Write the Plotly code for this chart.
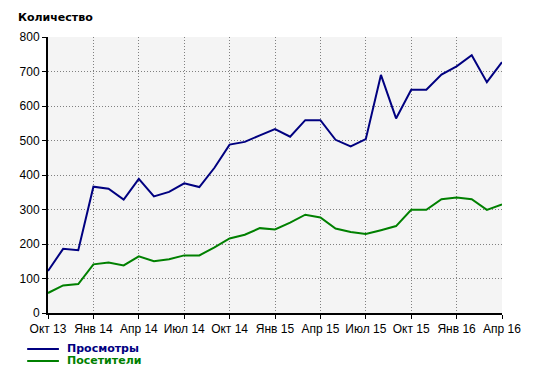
import plotly.graph_objects as go

months = ["Окт 13", "Ноя 13", "Дек 13", "Янв 14", "Фев 14", "Мар 14", "Апр 14", "Май 14",
          "Июн 14", "Июл 14", "Авг 14", "Сен 14", "Окт 14", "Ноя 14", "Дек 14", "Янв 15",
          "Фев 15", "Мар 15", "Апр 15", "Май 15", "Июн 15", "Июл 15", "Авг 15", "Сен 15",
          "Окт 15", "Ноя 15", "Дек 15", "Янв 16", "Фев 16", "Мар 16", "Апр 16"]
views = [122, 186, 182, 366, 360, 329, 389, 338, 351, 376, 365, 421, 488, 496, 515, 533,
         511, 559, 559, 502, 483, 504, 690, 564, 647, 647, 691, 715, 747, 669, 727]
visitors = [58, 80, 84, 141, 146, 138, 164, 150, 156, 167, 167, 190, 216, 227, 246, 242,
            262, 285, 277, 245, 235, 229, 240, 252, 299, 299, 330, 335, 330, 299, 315]
series_names = ["Просмотры", "Посетители"]
series_colors = ["#000080", "#008000"]
tick_idx = list(range(0, len(months), 3))
tick_labels = [months[i] for i in tick_idx]
y_ticks = [0, 100, 200, 300, 400, 500, 600, 700, 800]

x = list(range(len(months)))
fig = go.Figure()
for name, vals, col in zip(series_names, [views, visitors], series_colors):
    fig.add_trace(go.Scatter(x=x, y=vals, mode="lines", name=name,
                             line=dict(color=col, width=2), showlegend=False,
                             hovertext=months))

# page body has an 8px margin; figure sized so that it fits the 538x375 window
OFF = 8
W, H = 538 - OFF, 375 - OFF
L, T = 44 - OFF, 37 - OFF
pw, ph = 458, 276
R, B = W - L - pw, H - T - ph

grid_common = dict(showgrid=True, gridcolor="#808080", griddash="1px,2px", gridwidth=1,
                   showline=True, linecolor="black", linewidth=2,
                   ticks="outside", ticklen=4, tickcolor="black", tickwidth=1,
                   zeroline=False, fixedrange=True, tickfont=dict(size=12))
fig.update_layout(
    width=W, height=H,
    margin=dict(l=L, r=R, t=T, b=B, pad=0),
    paper_bgcolor="white", plot_bgcolor="#f4f4f4",
    font=dict(family="Liberation Sans, Arial", size=12, color="black"),
    xaxis=dict(range=[0, len(months) - 1], tickmode="array", tickvals=tick_idx,
               ticktext=tick_labels, **grid_common),
    yaxis=dict(range=[0, 800], tickmode="array", tickvals=y_ticks, **grid_common),
    showlegend=False,
)

def px_to_paper(xs, ys):
    return (xs - 44) / pw, (313 - ys) / ph

tx, ty = px_to_paper(12, 18)
fig.add_annotation(text="<b>Количество</b>", xref="paper", yref="paper",
                   x=tx, y=ty, xanchor="left", yanchor="middle",
                   showarrow=False, font=dict(family="DejaVu Sans", size=11, color="black"))

# legend (drawn manually to match compact spacing)
for i, (name, col) in enumerate(zip(series_names, series_colors)):
    yc = 349 + i * 12
    lx0, yp = px_to_paper(23, yc)
    lx1, _ = px_to_paper(55, yc)
    txp, typ = px_to_paper(61, yc - 0.5)
    fig.add_shape(type="line", xref="paper", yref="paper",
                  x0=lx0, x1=lx1, y0=yp, y1=yp,
                  line=dict(color=col, width=2))
    fig.add_annotation(text=f"<b>{name}</b>", xref="paper", yref="paper",
                       x=txp, y=typ, xanchor="left", yanchor="middle",
                       showarrow=False,
                       font=dict(family="DejaVu Sans", size=11, color=col))

fig.write_html("out.html")
